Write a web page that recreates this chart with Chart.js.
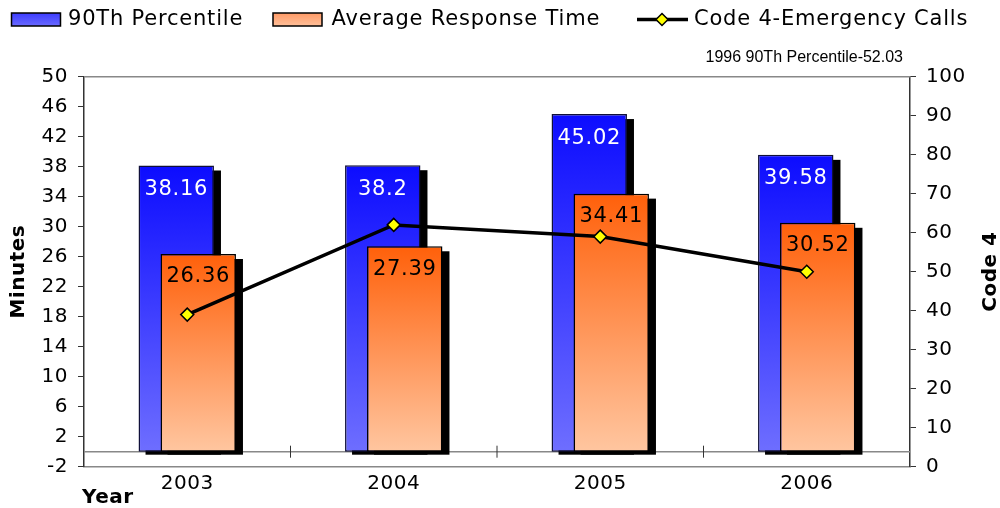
<!DOCTYPE html>
<html lang="en">
<head>
  <meta charset="UTF-8">
  <title>Response Time vs Code 4 Calls</title>
  <script src="https://cdn.jsdelivr.net/npm/chart.js"></script>
  <style>
    html, body { margin: 0; padding: 0; background: #fff; }
  </style>
</head>
<body>
  <canvas id="responseChart" width="1000" height="508"></canvas>

  <script>
    // data
    const years = ['2003', '2004', '2005', '2006'];
    const percentile90 = [38.16, 38.2, 45.02, 39.58];
    const avgResponse = [26.36, 27.39, 34.41, 30.52];
    const code4Calls = [39, 62, 59, 50];
    const seriesNames = ['90Th Percentile', 'Average Response Time', 'Code 4-Emergency Calls'];
    const minutesMin = -2, minutesMax = 50, minutesStep = 4;
    const code4Min = 0, code4Max = 100, code4Step = 10;
    const noteText = '1996 90Th Percentile-52.03';

    const blueStops = ['#0c0cff', '#6e6eff'];
    const orangeStops = ['#ff600a', '#ffc6a0'];
    const FONT = '"DejaVu Sans", Verdana, sans-serif';

    Chart.defaults.font.family = FONT;
    Chart.defaults.color = '#000';

    // vertical gradient per bar, dark at top, light at the base
    function barFill(stops) {
      return (c) => {
        const chart = c.chart;
        if (c.type !== 'data' || !chart.chartArea) return stops[0];
        const y = chart.scales.y;
        const g = chart.ctx.createLinearGradient(0, y.getPixelForValue(c.raw), 0, y.getPixelForValue(0));
        g.addColorStop(0, stops[0]);
        g.addColorStop(1, stops[1]);
        return g;
      };
    }

    // solid black drop shadow behind each bar of a dataset
    function drawShadows(chart, index) {
      const ctx = chart.ctx;
      ctx.save();
      ctx.fillStyle = '#000';
      chart.getDatasetMeta(index).data.forEach(bar => {
        const w = bar.width;
        ctx.fillRect(bar.x - w / 2 + 7, bar.y + 5, w, bar.base - bar.y - 2);
      });
      ctx.restore();
    }

    function swatch(ctx, x, y, w, h, stops) {
      const g = ctx.createLinearGradient(0, y, 0, y + h);
      g.addColorStop(0, stops[0]);
      g.addColorStop(1, stops[1]);
      ctx.fillStyle = g;
      ctx.fillRect(x, y, w, h);
      ctx.strokeStyle = '#000';
      ctx.lineWidth = 1.5;
      ctx.strokeRect(x, y, w, h);
    }

    const decorPlugin = {
      id: 'decor',
      beforeDraw(chart) {
        chart.ctx.letterSpacing = '0.5px';
      },
      beforeDatasetsDraw(chart) {
        const { ctx, chartArea: a, scales: { x, y } } = chart;
        const y0 = y.getPixelForValue(0);
        ctx.save();
        ctx.strokeStyle = '#888';
        ctx.lineWidth = 1.5;
        ctx.beginPath();
        ctx.moveTo(a.left, a.top); ctx.lineTo(a.right, a.top);
        ctx.moveTo(a.left, y0); ctx.lineTo(a.right, y0);
        ctx.stroke();
        // small ticks between the year groups, on the zero line
        ctx.strokeStyle = '#333';
        ctx.lineWidth = 1;
        ctx.beginPath();
        for (let i = 0; i < years.length - 1; i++) {
          const xb = (x.getPixelForValue(i) + x.getPixelForValue(i + 1)) / 2;
          ctx.moveTo(xb, y0 - 6); ctx.lineTo(xb, y0 + 6);
        }
        ctx.stroke();
        ctx.restore();

        // blue bars go first so the orange ones stand in front of them
        drawShadows(chart, 0);
        chart.getDatasetMeta(0).controller.draw();
      },
      beforeDatasetDraw(chart, args) {
        if (args.index === 0) return false;
        if (args.meta.type === 'bar') drawShadows(chart, args.index);
      },
      afterDatasetsDraw(chart) {
        const ctx = chart.ctx;
        ctx.save();
        ctx.font = '21px ' + FONT;
        ctx.letterSpacing = '0.7px';
        ctx.textAlign = 'center';
        ctx.textBaseline = 'middle';
        [[0, percentile90, '#fff', 24], [1, avgResponse, '#000', 23]].forEach(([di, vals, col, dy]) => {
          ctx.fillStyle = col;
          chart.getDatasetMeta(di).data.forEach((bar, i) => {
            ctx.fillText(String(vals[i]), bar.x, bar.y + dy);
          });
        });
        ctx.restore();
      },
      afterDraw(chart) {
        const { ctx, chartArea: a } = chart;
        ctx.save();

        // legend
        ctx.font = '21px ' + FONT;
        ctx.letterSpacing = '0.8px';
        ctx.textAlign = 'left';
        ctx.textBaseline = 'middle';
        swatch(ctx, 11.5, 13, 49, 13, ['#3c3cff', '#6a6aff']);
        ctx.fillStyle = '#000';
        ctx.fillText(seriesNames[0], 68, 19.5);
        swatch(ctx, 273, 13, 49, 13, ['#ff9a66', '#ffc09a']);
        ctx.fillStyle = '#000';
        ctx.fillText(seriesNames[1], 331.5, 19.5);
        ctx.strokeStyle = '#000';
        ctx.lineWidth = 3.5;
        ctx.beginPath();
        ctx.moveTo(637, 19.5); ctx.lineTo(688, 19.5);
        ctx.stroke();
        ctx.beginPath();
        ctx.moveTo(662, 13.5); ctx.lineTo(668, 19.5); ctx.lineTo(662, 25.5); ctx.lineTo(656, 19.5);
        ctx.closePath();
        ctx.fillStyle = '#ffff00';
        ctx.fill();
        ctx.lineWidth = 1.5;
        ctx.stroke();
        ctx.fillStyle = '#000';
        ctx.fillText(seriesNames[2], 694, 19.5);

        // note above the plot
        ctx.font = '16px "Liberation Sans", Arial, sans-serif';
        ctx.letterSpacing = '0px';
        ctx.textAlign = 'right';
        ctx.fillText(noteText, a.right - 7, a.top - 19);

        // axis titles
        ctx.font = 'bold 20px ' + FONT;
        ctx.letterSpacing = '0.5px';
        ctx.textAlign = 'left';
        ctx.fillText('Year', a.left - 2, 498);
        ctx.textAlign = 'center';
        const midY = (a.top + a.bottom) / 2;
        [['Minutes', 19], ['Code 4', 991]].forEach(([t, tx]) => {
          ctx.save();
          ctx.translate(tx, midY);
          ctx.rotate(-Math.PI / 2);
          ctx.fillText(t, 0, 0);
          ctx.restore();
        });
        ctx.restore();
      }
    };

    const tickFont = { size: 20 };

    new Chart(document.getElementById('responseChart'), {
      data: {
        labels: years,
        datasets: [
          {
            type: 'bar',
            label: seriesNames[0],
            data: percentile90,
            yAxisID: 'y',
            order: 1,
            backgroundColor: barFill(blueStops),
            borderColor: '#10103a',
            borderWidth: 1.5,
            borderSkipped: false,
            categoryPercentage: 0.213,
            barPercentage: 3.43
          },
          {
            type: 'bar',
            label: seriesNames[1],
            data: avgResponse,
            yAxisID: 'y',
            order: 2,
            backgroundColor: barFill(orangeStops),
            borderColor: '#000',
            borderWidth: 1.5,
            borderSkipped: false,
            categoryPercentage: 0.213,
            barPercentage: 3.43
          },
          {
            type: 'line',
            label: seriesNames[2],
            data: code4Calls,
            yAxisID: 'y1',
            order: 0,
            borderColor: '#000',
            borderWidth: 3.5,
            tension: 0,
            pointStyle: 'rectRot',
            pointRadius: 6.5,
            pointBackgroundColor: '#ffff00',
            pointBorderColor: '#000',
            pointBorderWidth: 1.5
          }
        ]
      },
      options: {
        responsive: false,
        animation: false,
        layout: { padding: { top: 76.7, left: 0, right: 0, bottom: 0 } },
        plugins: {
          legend: { display: false },
          tooltip: { enabled: false }
        },
        scales: {
          x: {
            grid: { display: false, drawTicks: false },
            border: { color: '#888', width: 1.5 },
            ticks: { font: tickFont, color: '#000', padding: 5 },
            afterFit(s) { s.height = 41.3; }
          },
          y: {
            position: 'left',
            min: minutesMin,
            max: minutesMax,
            ticks: { stepSize: minutesStep, font: tickFont, color: '#000', padding: 10 },
            grid: { drawOnChartArea: false, tickLength: 6, tickColor: '#333' },
            border: { color: '#333', width: 1.5 },
            afterFit(s) { s.width = 84; }
          },
          y1: {
            position: 'right',
            min: code4Min,
            max: code4Max,
            ticks: { stepSize: code4Step, font: tickFont, color: '#000', padding: 10 },
            grid: { drawOnChartArea: false, tickLength: 6, tickColor: '#333' },
            border: { color: '#333', width: 1.5 },
            afterFit(s) { s.width = 90; }
          }
        }
      },
      plugins: [decorPlugin]
    });
  </script>
</body>
</html>
